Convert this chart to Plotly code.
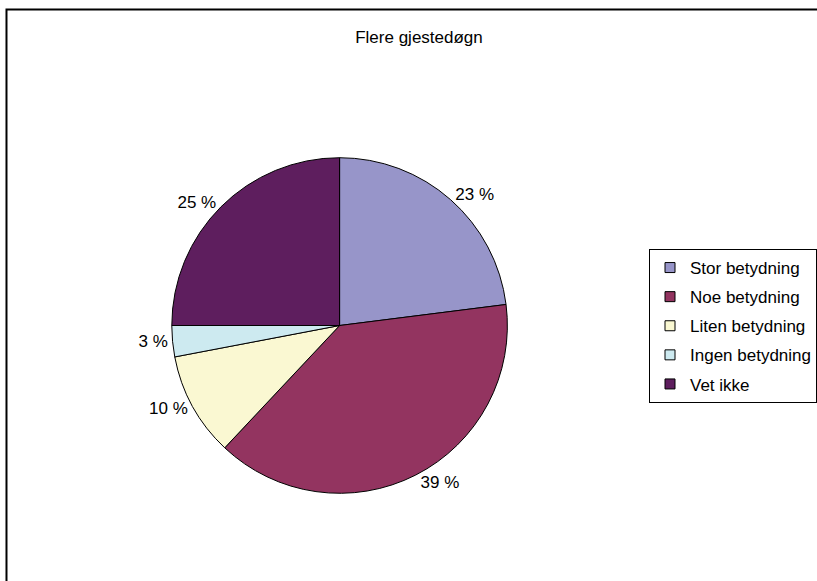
import plotly.graph_objects as go

categories = ["Stor betydning", "Noe betydning", "Liten betydning", "Ingen betydning", "Vet ikke"]
values = [23, 39, 10, 3, 25]
colors = ["#9795C9", "#933460", "#FAF8D2", "#CDEAF0", "#5E1E5E"]
title_text = "Flere gjestedøgn"

W, H = 817, 581
cx, cy, r = 340, 325.5, 168

FONT = "Liberation Sans, Arial, sans-serif"

fig = go.Figure()
fig.add_trace(go.Pie(
    labels=categories,
    values=values,
    sort=False,
    direction="clockwise",
    rotation=0,
    marker=dict(colors=colors, line=dict(color="black", width=1)),
    texttemplate="%{value} %",
    textposition="outside",
    textfont=dict(family=FONT, size=17, color="black"),
    hoverinfo="label+value",
    domain=dict(x=[(cx - r) / W, (cx + r) / W], y=[(H - cy - r) / H, (H - cy + r) / H]),
    automargin=False,
    showlegend=False,
))

# legend entries (one group per category so spacing can match the original)
for cat, col in zip(categories, colors):
    fig.add_trace(go.Scatter(
        x=[None], y=[None], mode="markers", name=cat, legendgroup=cat,
        marker=dict(symbol="square", size=10, color=col, line=dict(color="black", width=1)),
        hoverinfo="skip",
    ))

fig.update_layout(
    width=W, height=H,
    margin=dict(l=0, r=0, t=0, b=0),
    paper_bgcolor="white",
    plot_bgcolor="white",
    font=dict(family=FONT, size=17, color="black"),
    title=dict(text=title_text, x=419 / W, xanchor="center", y=1 - 37 / H, yanchor="middle",
               font=dict(family=FONT, size=17, color="black")),
    xaxis=dict(visible=False),
    yaxis=dict(visible=False),
    showlegend=True,
    legend=dict(
        x=650 / W, xanchor="left", y=1 - 249 / H, yanchor="top",
        bordercolor="black", borderwidth=1, bgcolor="white",
        font=dict(family=FONT, size=17, color="black"),
        traceorder="grouped", tracegroupgap=4,
    ),
    shapes=[dict(type="rect", xref="paper", yref="paper",
                 x0=6.5 / W, x1=1.05, y0=-0.05, y1=1 - 9.5 / H,
                 line=dict(color="black", width=2), fillcolor="rgba(0,0,0,0)", layer="below")],
)

fig.write_html("out.html")
